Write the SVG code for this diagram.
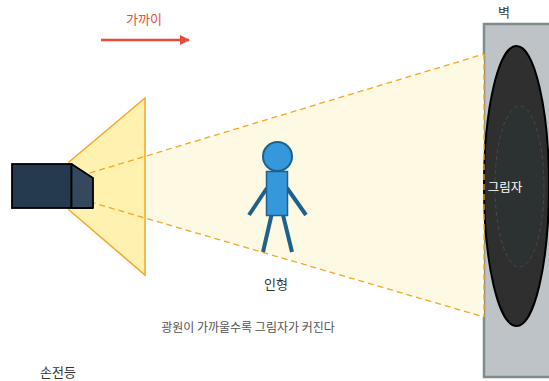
<svg xmlns="http://www.w3.org/2000/svg" width="549" height="381" viewBox="0 0 549 381">
  <defs>
    <style>
      .lbl { font-family: "Noto Sans CJK KR", "Noto Sans", sans-serif; font-size: 13px; fill: #333; text-anchor: middle; }
      .cap { font-family: "Noto Sans CJK KR", "Noto Sans", sans-serif; font-size: 12px; fill: #555; text-anchor: middle; }
      .beam-edge { stroke: #f5a623; stroke-width: 1.3; stroke-dasharray: 6 4; fill: none; }
      .limb { stroke: #1f618d; stroke-width: 4; stroke-linecap: butt; }
    </style>
    <marker id="arrowRed" viewBox="0 0 10 10" refX="9" refY="5" markerWidth="4" markerHeight="4" orient="auto">
      <path d="M0,0 L10,5 L0,10 z" fill="#e74c3c"/>
    </marker>
  </defs>

  <rect width="549" height="381" fill="#ffffff"/>

  <!-- wall -->
  <g id="wall">
    <rect x="484" y="24" width="80" height="353" fill="#bdc3c7" stroke="#7f8c8d" stroke-width="2.5"/>
    <text class="lbl" x="504" y="17">벽</text>
  </g>

  <!-- light beam spreading to the wall -->
  <g id="beam">
    <polygon points="93,172 484,54 484,317 93,202" fill="#fef9e1" fill-opacity="0.95"/>
  </g>

  <!-- shadow on the wall -->
  <g id="shadow">
    <ellipse cx="516.5" cy="186" rx="32.5" ry="140" fill="#2f2f2f" stroke="#000" stroke-width="2"/>
    <ellipse cx="519.5" cy="186.5" rx="24.5" ry="80.5" fill="#2c3232" stroke="#484848" stroke-width="1" stroke-dasharray="4 3"/>
    <text x="505" y="192" font-family="Noto Sans CJK KR, Noto Sans, sans-serif" font-size="12.5" fill="#ffffff" text-anchor="middle">그림자</text>
  </g>

  <!-- near light cone in front of the lens -->
  <g id="cone">
    <polygon points="69,162 145,98 145,275 69,210" fill="#fff1a8" fill-opacity="0.9" stroke="#f5a623" stroke-width="1.5"/>
  </g>

  <g id="connectors">
    <line class="beam-edge" x1="80" y1="176" x2="484" y2="54"/>
    <line class="beam-edge" x1="80" y1="199" x2="484" y2="317"/>
    <line class="beam-edge" x1="484" y1="54" x2="484" y2="317"/>
    <!-- direction hint -->
    <line x1="101" y1="40" x2="189" y2="40" stroke="#e74c3c" stroke-width="2.5" marker-end="url(#arrowRed)"/>
  </g>

  <!-- flashlight -->
  <g id="flashlight">
    <rect x="12" y="164" width="59.5" height="44" fill="#253a4f" stroke="#000" stroke-width="1.8"/>
    <polygon points="71.5,164 93,178 93,208 71.5,208" fill="#34495e" stroke="#000" stroke-width="1.8" stroke-linejoin="round"/>
    <text class="lbl" x="58" y="377">손전등</text>
  </g>

  <!-- doll figure -->
  <g id="doll">
    <line class="limb" x1="267" y1="188" x2="249" y2="215"/>
    <line class="limb" x1="287" y1="188" x2="306" y2="215"/>
    <line class="limb" x1="271.5" y1="215" x2="263" y2="252"/>
    <line class="limb" x1="283" y1="215" x2="292" y2="252"/>
    <circle cx="277.5" cy="156.5" r="14.5" fill="#3498db" stroke="#1f618d" stroke-width="2"/>
    <rect x="266.5" y="171.5" width="21" height="44" fill="#3498db" stroke="#1f618d" stroke-width="1.5"/>
    <text class="lbl" x="276" y="289">인형</text>
  </g>

  <!-- labels -->
  <g id="distance-label">
    <text x="144" y="24" font-family="Noto Sans CJK KR, Noto Sans, sans-serif" font-size="13" fill="#e74c3c" text-anchor="middle">가까이</text>
  </g>
  <g id="caption">
    <text class="cap" x="248" y="332">광원이 가까울수록 그림자가 커진다</text>
  </g>
</svg>
